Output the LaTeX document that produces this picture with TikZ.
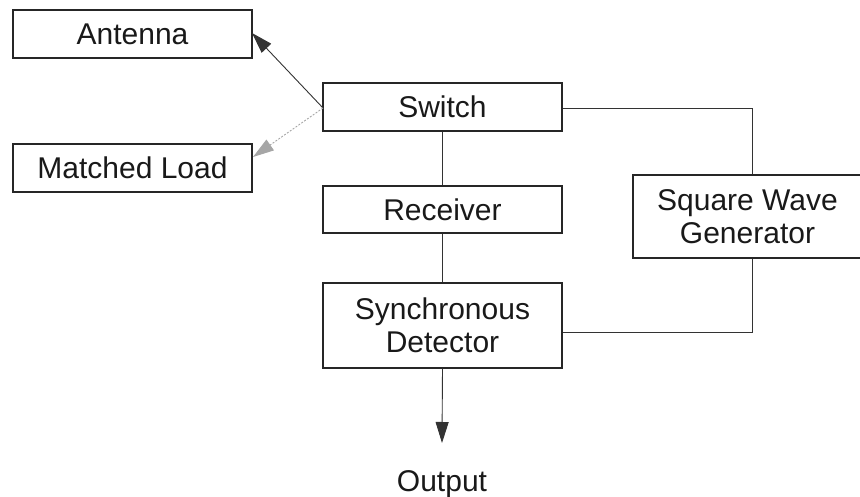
\documentclass[tikz,border=0pt]{standalone}
\usepackage{fontspec}
\setmainfont{Liberation Sans}
\usetikzlibrary{arrows.meta}
\begin{document}
\begin{tikzpicture}[x=1pt,y=-1pt,
  blk/.style={draw=black!85,line width=1.3pt,inner sep=0pt,align=center,
    font=\fontsize{30}{33}\selectfont,text=black!90},
  wire/.style={line width=0.9pt,draw=black!80},
  tip/.style={-{Triangle[length=21pt,width=13pt]}},
  arr/.style={wire,tip}]
\useasboundingbox (0,0) rectangle (860,497);
\node[blk,minimum width=239pt,minimum height=48pt] (ant) at (132.5,34) {Antenna};
\node[blk,minimum width=239pt,minimum height=48pt] (ml) at (132.5,168) {Matched Load};
\node[blk,minimum width=239pt,minimum height=48pt] (sw) at (442.5,107) {Switch};
\node[blk,minimum width=239pt,minimum height=47pt] (rx) at (442.5,209.5) {Receiver};
\node[blk,minimum width=239pt,minimum height=85pt] (sd) at (442.5,325.5) {Synchronous\\Detector};
\node[blk,minimum width=229pt,minimum height=83pt] (sq) at (747.5,216.5) {Square Wave\\Generator};
\node[font=\fontsize{30}{33}\selectfont,text=black!90,anchor=base] (out) at (442,491) {Output};
\coordinate (swl) at (323,108);
\coordinate (antr) at (252,33);
\coordinate (mlr) at (253,157);
\coordinate (outtip) at (442,443);
\draw[arr] (swl) -- (antr);
\draw[wire,draw=black!35,dashed,dash pattern=on 2pt off 1.5pt,tip,color=black!35] (swl) -- (mlr);
\draw[wire] (sw.south) -- (rx.north);
\draw[wire] (rx.south) -- (sd.north);
\draw[wire] (sw.east |- 0,108) -| (sq.north -| 752,0);
\draw[wire] (sq.south -| 752,0) |- (sd.east |- 0,332);
\draw[arr] (sd.south) -- (outtip);
\end{tikzpicture}
\end{document}
